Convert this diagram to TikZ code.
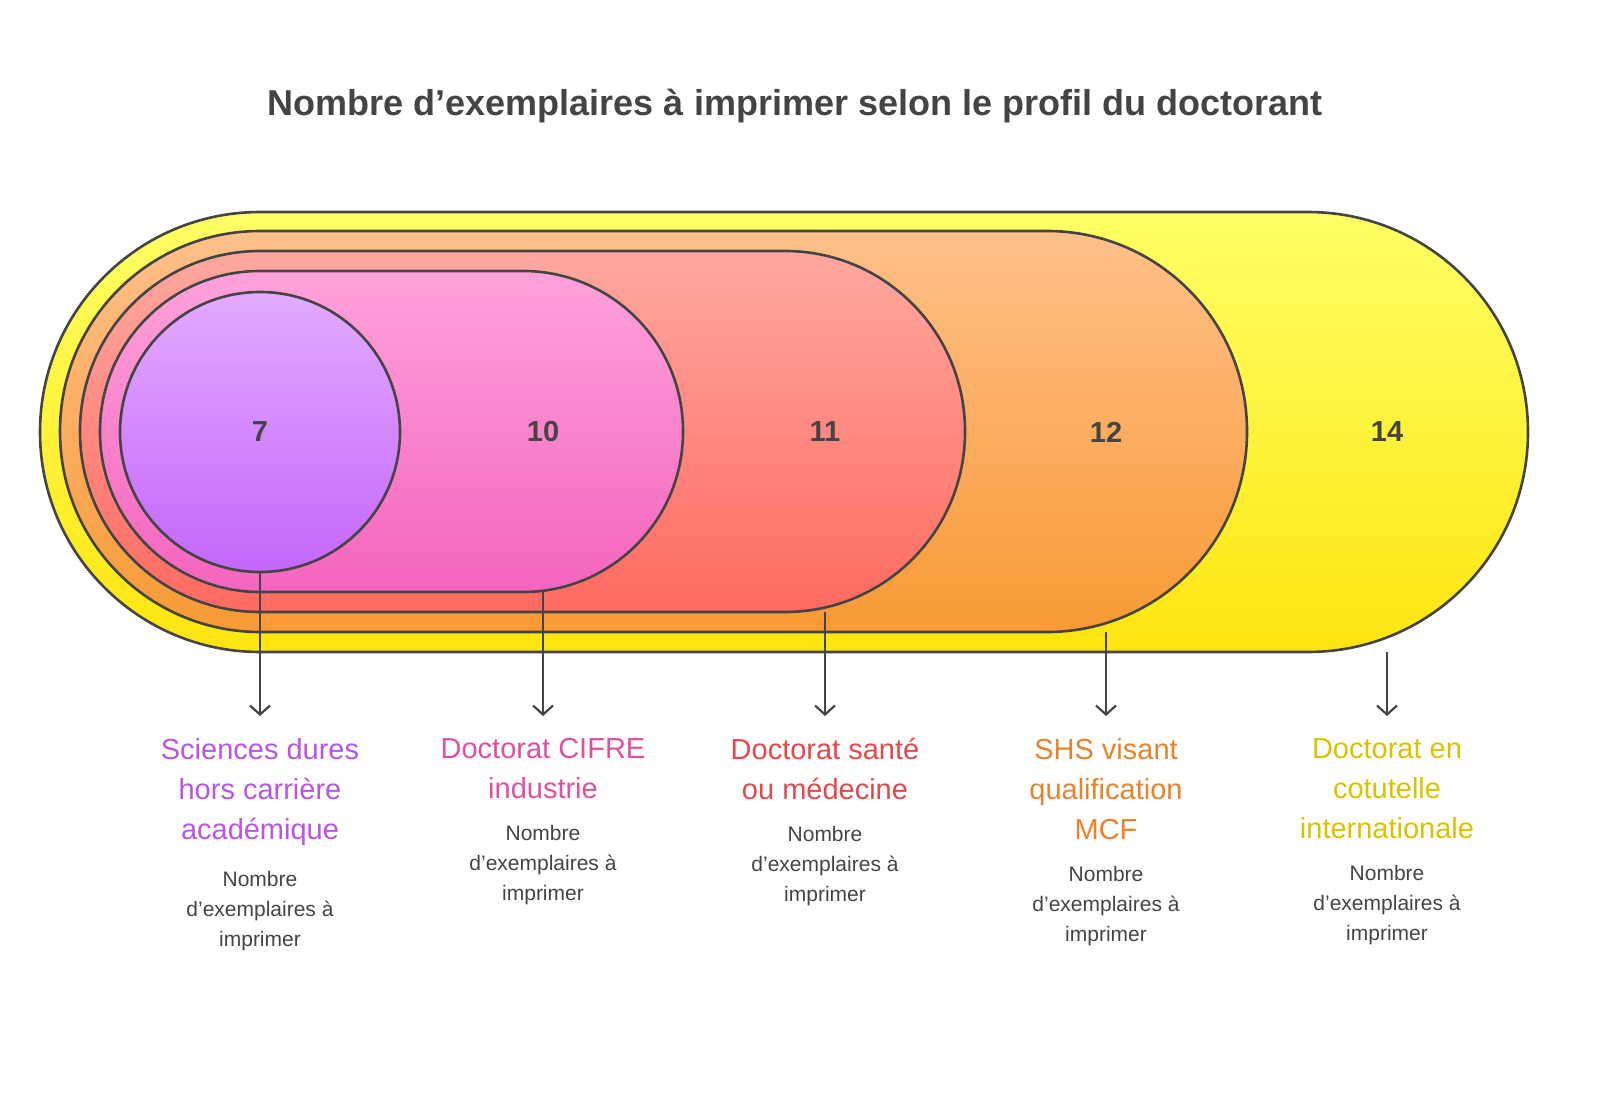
\documentclass[tikz,border=0pt]{standalone}
\usepackage{fontspec}
\setmainfont{Liberation Sans}
\usetikzlibrary{positioning,arrows.meta}
\definecolor{ink}{HTML}{444444}
\definecolor{cpur}{HTML}{B854E6}
\definecolor{cpink}{HTML}{E0509F}
\definecolor{cred}{HTML}{E8474A}
\definecolor{corg}{HTML}{E8822B}
\definecolor{cyel}{HTML}{D9C200}
\tikzset{
  band/.style={draw=ink,line width=2.6pt},
  num/.style={font=\fontsize{29}{34}\selectfont\bfseries,text=ink},
  lab/.style={anchor=north,align=center,font=\fontsize{29}{40}\selectfont,inner sep=0pt},
  sub/.style={align=center,font=\fontsize{21}{30}\selectfont,text=ink,inner sep=0pt},
  pin/.style={draw=ink,line width=2.2pt,-{Straight Barb[length=9pt,width=20pt,line width=2.2pt]}}
}
\begin{document}
\begin{tikzpicture}[x=1pt,y=1pt,yscale=-1]
\useasboundingbox (0,0) rectangle (1600,1107);

\node[font=\fontsize{36}{40}\selectfont\bfseries,text=ink] (title) at (795,106) {Nombre d'exemplaires à imprimer selon le profil du doctorant};

% nested bands
\draw[band,top color=yellow!60!white,bottom color={rgb,255:red,253;green,229;blue,15}] (40,212) [rounded corners=220pt] rectangle (1528,652);
\draw[band,top color={rgb,255:red,255;green,192;blue,138},bottom color={rgb,255:red,248;green,154;blue,53}] (60,231) [rounded corners=200pt] rectangle (1247,632);
\draw[band,top color={rgb,255:red,255;green,168;blue,160},bottom color={rgb,255:red,255;green,106;blue,96}] (80,251) [rounded corners=180pt] rectangle (965,612);
\draw[band,top color={rgb,255:red,255;green,162;blue,219},bottom color={rgb,255:red,244;green,100;blue,190}] (100,271) [rounded corners=160pt] rectangle (683,592);
\draw[band,top color={rgb,255:red,227;green,170;blue,255},bottom color={rgb,255:red,196;green,102;blue,251}] (260,432) circle (140);

\node[num] (n1) at (260,432) {7};
\node[num] (n2) at (543,432) {10};
\node[num] (n3) at (825,432) {11};
\node[num] (n4) at (1106,432) {12};
\node[num] (n5) at (1387,432) {14};

\coordinate (b1) at (260,572);
\coordinate (b2) at (543,592);
\coordinate (b3) at (825,612);
\coordinate (b4) at (1106,632);
\coordinate (b5) at (1387,652);

% labels
\node[lab,text=cpur] (l1) at (260,738) {Sciences dures\\hors carrière\\académique};
\node[lab,text=cpink] (l2) at (543,738) {Doctorat CIFRE\\industrie};
\node[lab,text=cred] (l3) at (825,738) {Doctorat santé\\ou médecine};
\node[lab,text=corg] (l4) at (1106,738) {SHS visant\\qualification\\MCF};
\node[lab,text=cyel] (l5) at (1387,738) {Doctorat en\\cotutelle\\internationale};

\foreach \i in {1,...,5}{
  \node[sub,below=26pt of l\i] (s\i) {Nombre\\d'exemplaires à\\imprimer};
  \draw[pin,shorten >=22pt] (b\i) -- (l\i.north);
}
\end{tikzpicture}
\end{document}
